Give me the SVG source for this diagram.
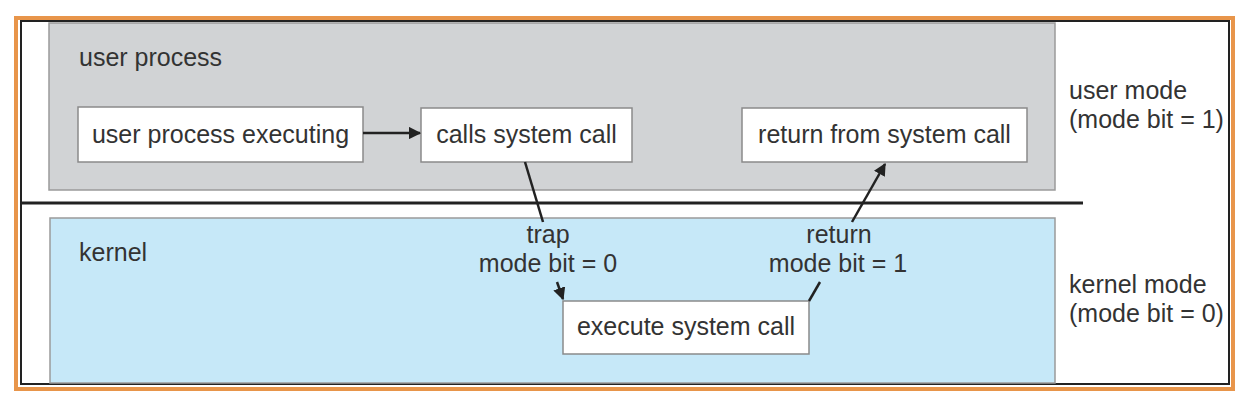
<svg xmlns="http://www.w3.org/2000/svg" width="1255" height="417" viewBox="0 0 1255 417">
<style>
  text { font-family: "Liberation Sans", Arial, sans-serif; font-size: 25px; fill: #333; }
  .box { fill: #ffffff; stroke: #8a8a8a; stroke-width: 1.5; }
  .conn { stroke: #222; stroke-width: 2.5; fill: none; }
</style>
<defs>
  <marker id="arr" viewBox="0 0 10 10" refX="9" refY="5" markerWidth="5" markerHeight="5" orient="auto" markerUnits="strokeWidth">
    <path d="M0,0 L10,5 L0,10 z" fill="#222"/>
  </marker>
</defs>
<rect x="0" y="0" width="1255" height="417" fill="#ffffff"/>
<g id="frame">
  <rect x="16" y="18" width="1217" height="371" fill="#ffffff" stroke="#e8954a" stroke-width="4"/>
  <rect x="21" y="21" width="1208" height="363" fill="none" stroke="#222" stroke-width="2"/>
</g>
<g id="user-process">
  <rect x="49" y="23" width="1006" height="167" fill="#d1d3d5" stroke="#9a9a9a" stroke-width="1.5"/>
  <text x="79" y="66">user process</text>
</g>
<g id="kernel">
  <rect x="50" y="218" width="1005" height="165" fill="#c6e8f8" stroke="#9a9a9a" stroke-width="1.5"/>
  <text x="79" y="261">kernel</text>
</g>
<line id="divider" x1="21" y1="203" x2="1083" y2="203" stroke="#222" stroke-width="3"/>
<g id="node-executing">
  <rect class="box" x="78" y="107" width="285" height="55"/>
  <text x="220.5" y="143" text-anchor="middle">user process executing</text>
</g>
<g id="node-calls">
  <rect class="box" x="421" y="108" width="211" height="54"/>
  <text x="526.5" y="143" text-anchor="middle">calls system call</text>
</g>
<g id="node-return">
  <rect class="box" x="742" y="108" width="285" height="54"/>
  <text x="884.5" y="143" text-anchor="middle">return from system call</text>
</g>
<g id="node-execute">
  <rect class="box" x="563" y="301" width="246" height="53"/>
  <text x="686" y="335" text-anchor="middle">execute system call</text>
</g>
<g id="mode-labels">
  <text x="1069" y="99">user mode</text>
  <text x="1069" y="128">(mode bit = 1)</text>
  <text x="1069" y="293">kernel mode</text>
  <text x="1069" y="322">(mode bit = 0)</text>
</g>
<g id="connectors">
  <line class="conn" x1="363" y1="133" x2="420" y2="133" marker-end="url(#arr)"/>
  <line class="conn" x1="525" y1="162" x2="543" y2="222"/>
  <line class="conn" x1="557" y1="282" x2="563" y2="299" marker-end="url(#arr)"/>
  <line class="conn" x1="809" y1="301" x2="820" y2="282"/>
  <line class="conn" x1="852" y1="222" x2="885" y2="164" marker-end="url(#arr)"/>
  <text x="548" y="243" text-anchor="middle">trap</text>
  <text x="548" y="272" text-anchor="middle">mode bit = 0</text>
  <text x="839" y="243" text-anchor="middle">return</text>
  <text x="838" y="272" text-anchor="middle">mode bit = 1</text>
</g>
</svg>
